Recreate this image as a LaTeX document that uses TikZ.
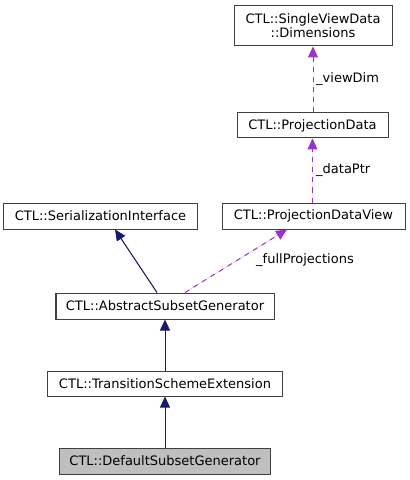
\documentclass[tikz,border=0pt]{standalone}
\usepackage{fontspec}
\setmainfont{DejaVu Sans}
\usetikzlibrary{arrows.meta}
\definecolor{edgeblue}{HTML}{191970}
\definecolor{edgepurple}{HTML}{9A32CD}
\definecolor{boxline}{HTML}{404040}
\definecolor{boxgray}{HTML}{BFBFBF}
\begin{document}
\begin{tikzpicture}[x=1bp,y=-1bp,
  cls/.style={draw=boxline,line width=1bp,fill=white,inner sep=0pt,align=center,
    font=\fontsize{13bp}{14bp}\selectfont},
  inh/.style={draw=edgeblue,line width=1bp,-{Triangle[length=11bp,width=10bp]},fill=edgeblue},
  use/.style={draw=edgepurple,line width=1bp,dash pattern=on 5bp off 5bp,-{Triangle[length=11bp,width=10bp]},fill=edgepurple},
  lbl/.style={anchor=west,inner sep=0pt,font=\fontsize{13bp}{14bp}\selectfont}]
\useasboundingbox (0,0) rectangle (409,480);
\node[cls,minimum width=158bp,minimum height=40bp] (dim) at (313,26) {CTL::SingleViewData\\::Dimensions};
\node[cls,minimum width=151bp,minimum height=25bp] (pd) at (312.5,125.5) {CTL::ProjectionData};
\node[cls,minimum width=183bp,minimum height=26bp] (pdv) at (313.5,216) {CTL::ProjectionDataView};
\node[cls,minimum width=193bp,minimum height=26bp] (si) at (100.5,216) {CTL::SerializationInterface};
\node[cls,minimum width=218bp,minimum height=26bp] (asg) at (165,306) {CTL::AbstractSubsetGenerator};
\node[cls,minimum width=234bp,minimum height=25bp] (tse) at (165,383.5) {CTL::TransitionSchemeExtension};
\node[cls,fill=boxgray,minimum width=211bp,minimum height=26bp] (dsg) at (165,461) {CTL::DefaultSubsetGenerator};
\draw[use] (pd.north -| dim.south) -- (dim.south);
\draw[use] (pdv.north -| pd.south) -- (pd.south);
\draw[use] ([xshift=20bp]asg.north) -- ([xshift=-26.5bp]pdv.south);
\draw[inh] ([xshift=-8bp]asg.north) -- ([xshift=14.5bp]si.south);
\draw[inh] (tse.north) -- (asg.south);
\draw[inh] (dsg.north) -- (tse.south);
\node[lbl] (l1) at (316,79) {\_viewDim};
\node[lbl] (l2) at (316,170) {\_dataPtr};
\node[lbl] (l3) at (256,260) {\_fullProjections};
\end{tikzpicture}
\end{document}
